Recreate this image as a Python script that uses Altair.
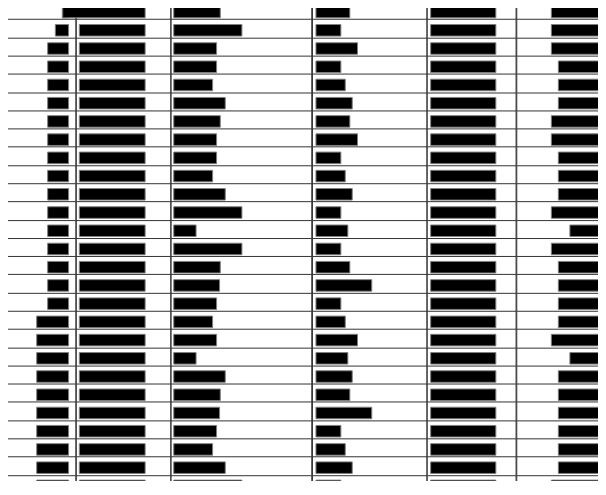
import altair as alt
import pandas as pd

rows = list(range(1, 28))

col_a = [6.3, 13.3] + [21.0] * 15 + [32.0] * 10

col_b_start = [-16.7] + [0.0] * 26
col_b_end = [66.0] * 27

col_c = [46.7, 68.4, 43.0, 43.0, 39.0, 51.7, 46.7, 43.0, 43.0, 39.0,
         51.7, 68.4, 22.4, 68.4, 46.7, 46.0, 43.0, 39.0, 43.0, 22.4,
         51.7, 46.7, 46.0, 43.0, 39.0, 51.7, 68.4]

col_d = [34.0, 25.0, 41.7, 25.0, 29.4, 36.4, 34.0, 41.7, 25.0, 29.4,
         36.4, 25.0, 32.0, 25.0, 34.0, 56.0, 25.0, 29.4, 41.7, 32.0,
         36.4, 34.0, 56.0, 25.0, 29.4, 36.4, 25.0]

col_e = [65.4] * 27

col_f = [47.5, 47.5, 47.5, 40.5, 40.5, 40.5, 47.5, 47.5, 40.5, 40.5,
         40.5, 47.5, 28.9, 47.5, 40.5, 40.5, 40.5, 40.5, 47.5, 28.9,
         40.5, 40.5, 40.5, 40.5, 40.5, 40.5, 47.5]

df = pd.DataFrame({
    "row": rows,
    "a": col_a,
    "b0": col_b_start,
    "b1": col_b_end,
    "c": col_c,
    "d": col_d,
    "e": col_e,
    "f": col_f,
})

H = 498

yenc = alt.Y(
    "row:O",
    scale=alt.Scale(paddingInner=0.366, paddingOuter=0.3007),
    axis=alt.Axis(grid=True, bandPosition=-0.413, labels=False, ticks=False,
                  domain=False, title=None),
)


def bar():
    return alt.Chart(df).mark_bar(color="black", stroke="#808080", strokeWidth=1)


def sc(lo, hi, rev=False):
    if rev:
        return alt.Scale(domain=[lo, hi], nice=False, zero=False, reverse=True)
    return alt.Scale(domain=[lo, hi], nice=False, zero=False)


pa = bar().encode(
    y=yenc,
    x=alt.X("a:Q", scale=sc(-6.8, 68.8, True), axis=None),
    x2=alt.datum(0),
).properties(width=75.6, height=H)

pb = bar().encode(
    y=yenc,
    x=alt.X("b0:Q", scale=sc(-3.6, 91.3), axis=None),
    x2="b1:Q",
).properties(width=94.9, height=H)

pc = bar().encode(
    y=yenc,
    x=alt.X("c:Q", scale=sc(-3.3, 138.0), axis=None),
    x2=alt.datum(0),
).properties(width=141.3, height=H)

pd_ = bar().encode(
    y=yenc,
    x=alt.X("d:Q", scale=sc(-4.0, 110.9), axis=None),
    x2=alt.datum(0),
).properties(width=114.9, height=H)

pe = bar().encode(
    y=yenc,
    x=alt.X("e:Q", scale=sc(-4.1, 85.2), axis=None),
    x2=alt.datum(0),
).properties(width=89.3, height=H)

pf = bar().encode(
    y=yenc,
    x=alt.X("f:Q", scale=sc(-7.3, 82.7, True), axis=None),
    x2=alt.datum(0),
).properties(width=90, height=H)

chart = alt.hconcat(
    pa, pb, pc, pd_, pe, pf, spacing=0, bounds="flush"
).properties(
    padding={"left": -9, "top": -9, "right": -9, "bottom": -18}
).configure_view(
    stroke="#333333", strokeWidth=1
).configure_axis(
    gridColor="#333333", gridOpacity=1, gridWidth=1
)

chart.save("out.html", embed_options={"renderer": "svg", "actions": False})
